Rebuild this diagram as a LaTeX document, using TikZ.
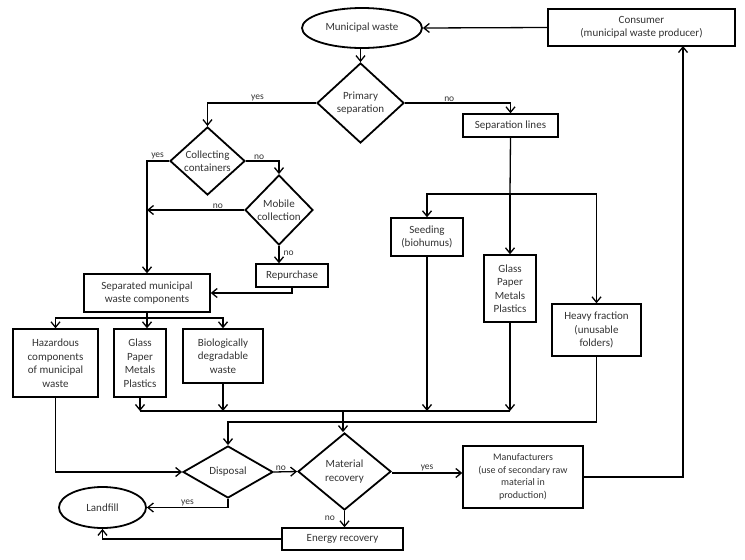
\documentclass[tikz,border=0pt]{standalone}
\usepackage{fontspec}
\setmainfont{Carlito}
\usetikzlibrary{shapes.geometric,arrows.meta}
\begin{document}
\begin{tikzpicture}[x=1pt,y=-1pt,
  txt/.style={font=\fontsize{11}{13.5}\selectfont,align=center,text=black!80},
  box/.style={txt,draw,line width=1.4pt,inner sep=1pt},
  dia/.style={txt,draw,diamond,line width=1.8pt,inner sep=-2pt},
  ell/.style={txt,draw,ellipse,line width=1.8pt,inner sep=0pt},
  arr/.style={line width=1.3pt,-{Straight Barb[length=5.5pt,width=9pt]}},
  ln/.style={line width=1.3pt},
  lab/.style={font=\fontsize{9.5}{11}\selectfont,inner sep=1pt,text=black!80}]
\useasboundingbox (0,0) rectangle (745,560);
% nodes
\node[ell,minimum width=120pt,minimum height=40pt] (mw) at (362,28) {Municipal waste};
\node[box,minimum width=187pt,minimum height=37pt] (cons) at (641.5,27.5) {Consumer\\(municipal waste producer)};
\node[dia,minimum width=87pt,minimum height=80pt] (ps) at (360.5,103) {Primary\\separation};
\node[dia,minimum width=75pt,minimum height=68pt,inner sep=-8pt] (cc) at (207.5,161) {Collecting\\containers};
\node[dia,minimum width=68pt,minimum height=70pt,inner sep=-8pt] (mc) at (279,210) {Mobile\\collection};
\node[box,minimum width=95pt,minimum height=23pt] (sl) at (510.5,125.5) {Separation lines};
\node[box,minimum width=72pt,minimum height=23pt] (rep) at (292,275.5) {Repurchase};
\node[box,minimum width=126pt,minimum height=38pt] (smw) at (147,293) {Separated municipal\\waste components};
\node[box,minimum width=85pt,minimum height=68pt] (haz) at (55.5,363) {Hazardous\\components\\of municipal\\waste};
\node[box,minimum width=52pt,minimum height=68pt] (g1) at (140,363) {Glass\\Paper\\Metals\\Plastics};
\node[box,minimum width=80pt,minimum height=54pt] (bio) at (223,356) {Biologically\\degradable\\waste};
\node[box,minimum width=72pt,minimum height=38pt] (seed) at (427,237) {Seeding\\(biohumus)};
\node[box,minimum width=52pt,minimum height=67pt] (g2) at (510,288.5) {Glass\\Paper\\Metals\\Plastics};
\node[box,minimum width=89pt,minimum height=52pt] (heavy) at (596.5,330) {Heavy fraction\\(unusable\\folders)};
\node[dia,minimum width=90pt,minimum height=52pt,inner sep=-8pt] (disp) at (228,472) {Disposal};
\node[dia,minimum width=93pt,minimum height=77pt] (mr) at (344.5,471.5) {Material\\recovery};
\node[box,minimum width=120pt,minimum height=62pt,font=\fontsize{10}{12.5}\selectfont] (man) at (523,477) {Manufacturers\\(use of secondary raw\\material in\\production)};
\node[box,minimum width=121pt,minimum height=22pt] (er) at (342.5,539) {Energy recovery};
\node[ell,minimum width=87pt,minimum height=41pt] (lf) at (102.5,507.5) {Landfill};
% junction coordinates
\coordinate (j1) at (147,318);
\coordinate (c1) at (343,411);
\coordinate (c2) at (228,422);
\coordinate (c3) at (510,194);
\coordinate (cu) at (683,46);
% connectors
\draw[arr] (cons.west) -- (mw.east);
\draw[arr] (ps.north |- mw.south) -- (ps.north);
\draw[arr] (ps.west) -| node[lab,pos=0.27,above] {yes} (cc.north);
\draw[arr] (ps.east) -| node[lab,pos=0.21,above] {no} (sl.north);
\draw[arr] (cc.east) -| node[lab,pos=0.2,above] {no} (mc.north);
\draw[arr] (cc.west) -| node[lab,pos=0.26,above] {yes} (smw.north);
\draw[arr] (mc.west) -- node[lab,pos=0.27,above] {no} (mc.west -| smw.north);
\draw[arr] (mc.south) -- node[lab,right=3pt,pos=0.4] {no} (mc.south |- rep.north);
\draw[arr] (rep.south) |- (smw.east);
\draw[ln] (smw.south) -- (j1);
\draw[arr] (j1) -| (haz.north);
\draw[arr] (j1) -| (bio.north);
\draw[arr] (j1) -- (j1 |- g1.north);
\draw[ln] (g1.south |- c1) -- (g2.south |- c1);
\draw[arr] (g1.south) -- (g1.south |- c1);
\draw[arr] (bio.south) -- (bio.south |- c1);
\draw[arr] (seed.south) -- (seed.south |- c1);
\draw[arr] (g2.south) -- (g2.south |- c1);
\draw[arr] (c1) -- (c1 |- mr.north);
\draw[arr] (heavy.south) |- (c2) -- (disp.north);
\draw[arr] (haz.south) |- (disp.west);
\draw[arr] (disp.east) -- node[lab,above,pos=0.3] {no} (mr.west);
\draw[arr] (disp.south) |- node[lab,above,pos=0.75] {yes} (lf.east);
\draw[arr] (mr.east |- 0,473) -- node[lab,above] {yes} (man.west |- 0,473);
\draw[arr] (man.east) -| (cu);
\draw[arr] (mr.south) -- node[lab,left=8pt,pos=0.45] {no} (mr.south |- er.north);
\draw[arr] (er.west) -| (lf.south);
\draw[ln] (sl.south) -- (c3);
\draw[arr] (c3) -| (seed.north);
\draw[arr] (c3) -| (heavy.north);
\draw[arr] (c3) -- (g2.north);
\end{tikzpicture}
\end{document}
